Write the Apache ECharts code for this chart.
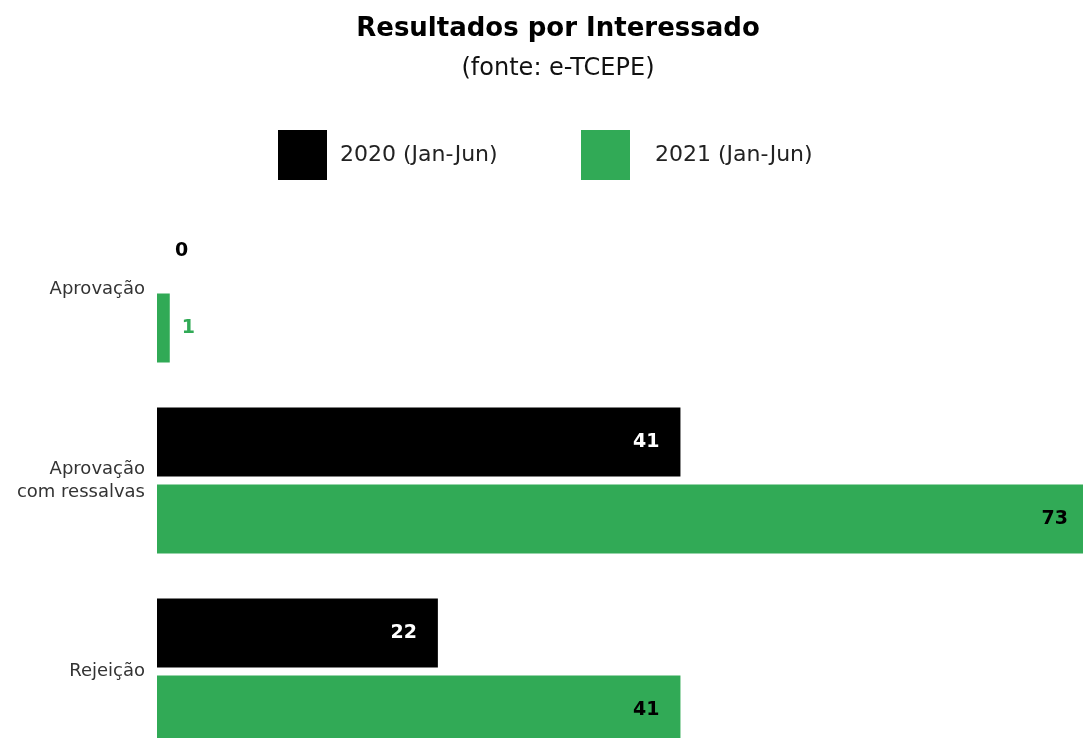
<!DOCTYPE html>
<html><head><meta charset="utf-8">
<script src="https://cdn.jsdelivr.net/npm/echarts@6/dist/echarts.min.js"></script>
<style>html,body{margin:0;padding:0;background:#fff}#c{width:1083px;height:738px}</style>
</head><body><div id="c"></div>
<script>
const categories = ['Aprovação', 'Aprovação\ncom ressalvas', 'Rejeição'];
const seriesNames = ['2020 (Jan-Jun)', '2021 (Jan-Jun)'];
const values2020 = [0, 41, 22];
const values2021 = [1, 73, 41];

const FONT = '"DejaVu Sans", sans-serif';
const GREEN = '#31AA56';

function mkData(vals, insideColor, outsideColor) {
  return vals.map(v => {
    const small = v <= 2;
    return {
      value: v,
      label: {
        show: true,
        position: small ? 'right' : 'insideRight',
        distance: small ? (v === 0 ? 18 : 12) : 21,
        color: small ? outsideColor : insideColor,
        fontFamily: FONT,
        fontWeight: 'bold',
        fontSize: 19
      }
    };
  });
}

const chart = echarts.init(document.getElementById('c'));
chart.setOption({
  animation: false,
  backgroundColor: '#fff',
  title: [
    { text: 'Resultados por Interessado', left: 553, top: 11, textAlign: 'center',
      textStyle: { fontFamily: FONT, fontWeight: 'bold', fontSize: 26, color: '#000' } },
    { text: '(fonte: e-TCEPE)', left: 553, top: 52, textAlign: 'center',
      textStyle: { fontFamily: FONT, fontWeight: 'normal', fontSize: 24, color: '#111' } }
  ],
  legend: [
    { data: [seriesNames[0]], left: 273, top: 125, itemWidth: 49, itemHeight: 50,
      icon: 'rect', textStyle: { fontFamily: FONT, fontSize: 22, color: '#222', padding: [0, 0, 0, 8] } },
    { data: [seriesNames[1]], left: 576, top: 125, itemWidth: 49, itemHeight: 50,
      icon: 'rect', textStyle: { fontFamily: FONT, fontSize: 22, color: '#222', padding: [0, 0, 0, 20] } }
  ],
  grid: { left: 157, width: 932, top: 194, height: 573, containLabel: false, outerBoundsMode: 'none' },
  xAxis: { type: 'value', min: 0, max: 73, show: false, splitLine: { show: false } },
  yAxis: {
    type: 'category', data: categories, inverse: true,
    axisLine: { show: false }, axisTick: { show: false },
    axisLabel: { margin: 12, fontFamily: FONT, fontSize: 18, color: '#333', lineHeight: 23, align: 'right' }
  },
  series: [
    { name: seriesNames[0], type: 'bar', barWidth: 69, barGap: '11.6%',
      itemStyle: { color: '#000' }, data: mkData(values2020, '#fff', '#000') },
    { name: seriesNames[1], type: 'bar', barWidth: 69, barGap: '11.6%',
      itemStyle: { color: GREEN }, data: mkData(values2021, '#000', GREEN) }
  ]
});
</script></body></html>
